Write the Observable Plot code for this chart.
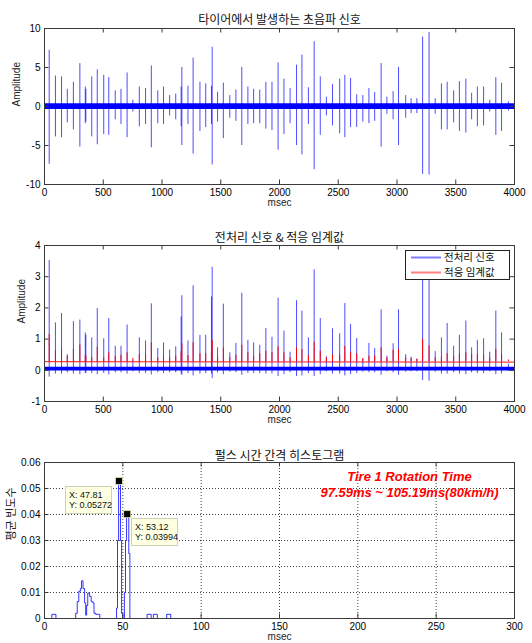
<!DOCTYPE html>
<html>
<head>
<meta charset="utf-8">
<script src="https://cdn.jsdelivr.net/npm/d3@7"></script>
<script src="https://cdn.jsdelivr.net/npm/@observablehq/plot@0.6"></script>
<style>
  body { margin: 0; background: #fff; }
  #fig { position: relative; width: 532px; height: 643px; overflow: hidden; background: #fff; }
  #fig > svg { position: absolute; left: 0; }
</style>
</head>
<body>
<div id="fig"></div>
<script>
// ---- pulse train: one entry per detected tyre pulse ----
const pulseTime = [
  40, 93, 145, 194, 246, 301, 347, 352, 402, 449,
  504, 547, 602, 651, 703, 752, 807, 860, 909, 964,
  1013, 1065, 1117, 1163, 1169, 1221, 1265, 1323, 1372, 1421,
  1427, 1473, 1522, 1577, 1629, 1679, 1731, 1780, 1832, 1884,
  1936, 1988, 2038, 2090, 2145, 2191, 2246, 2295, 2347, 2399,
  2451, 2512, 2556, 2605, 2657, 2709, 2761, 2810, 2865, 2914,
  2967, 3013, 3074, 3120, 3169, 3218, 3273, 3325, 3378, 3427,
  3482, 3531, 3586, 3635, 3684, 3737, 3789, 3841, 3890, 3948
];
// raw ultrasonic signal: positive / negative peak of each pulse
const rawHigh = [
  7.2, 3.9, 3.8, 2.2, 3.1, 5.5, 2.5, 2.2, 3.8, 4.7,
  4.0, 3.7, 2.0, 2.2, 4.3, 0.8, 2.5, 2.3, 5.2, 2.0,
  2.5, 1.4, 1.6, 2.5, 5.0, 2.6, 6.2, 3.1, 2.9, 2.6,
  7.6, 1.8, 3.0, 1.4, 2.1, 5.0, 2.5, 2.2, 2.1, 3.1,
  3.1, 5.6, 3.5, 2.3, 5.3, 6.6, 2.4, 8.3, 3.8, 1.2,
  2.8, 3.5, 4.0, 3.6, 1.5, 1.4, 2.3, 1.8, 5.5, 1.2,
  1.9, 5.0, 1.4, 1.0, 1.0, 8.9, 9.5, 1.0, 2.9, 3.1,
  2.0, 3.2, 3.5, 1.7, 2.5, 2.5, 0.8, 3.7, 3.0, 0.6
];
const rawLow = [
  -7.4, -3.9, -4.0, -2.1, -3.0, -5.2, -2.2, -2.0, -3.9, -4.9,
  -3.6, -3.7, -1.7, -2.3, -4.0, -0.7, -2.6, -2.3, -5.3, -2.2,
  -2.3, -1.2, -1.7, -2.6, -5.0, -2.3, -6.1, -3.2, -2.7, -2.3,
  -7.5, -2.0, -4.1, -1.5, -1.9, -5.0, -2.3, -2.2, -2.2, -2.9,
  -3.1, -5.6, -3.6, -2.2, -5.0, -6.2, -2.3, -8.1, -3.7, -1.2,
  -2.5, -3.5, -4.0, -2.7, -2.7, -2.0, -2.2, -1.9, -5.2, -1.0,
  -1.7, -5.0, -1.5, -0.9, -0.9, -8.7, -8.8, -1.0, -3.0, -3.0,
  -2.1, -3.2, -3.4, -1.7, -2.6, -2.5, -0.7, -3.7, -3.2, -0.6
];
// preprocessed signal: peak and undershoot of each pulse
const procHigh = [
  3.52, 1.52, 1.82, 0.50, 1.56, 1.61, 1.20, 1.12, 1.04, 1.98,
  1.01, 1.66, 0.77, 0.77, 1.45, 0.30, 1.04, 0.94, 2.13, 0.70,
  0.88, 0.65, 0.75, 1.71, 2.39, 0.94, 2.71, 1.12, 1.12, 2.35,
  3.30, 0.72, 2.12, 0.56, 0.86, 2.47, 0.96, 0.88, 0.80, 1.34,
  1.06, 2.31, 1.26, 0.58, 2.23, 1.90, 1.04, 3.22, 1.66, 0.43,
  1.33, 1.17, 2.14, 1.47, 1.02, 0.35, 0.86, 0.70, 1.94, 0.45,
  0.85, 1.94, 0.50, 0.42, 0.35, 3.40, 3.60, 0.60, 1.04, 1.50,
  0.77, 1.12, 1.58, 0.72, 0.96, 1.01, 0.58, 1.90, 1.20, 0.20
];
const procLow = [
  -0.22, -0.12, -0.12, -0.08, -0.12, -0.14, -0.10, -0.10, -0.10, -0.14,
  -0.10, -0.15, -0.08, -0.08, -0.12, -0.05, -0.10, -0.10, -0.15, -0.08,
  -0.10, -0.08, -0.08, -0.12, -0.16, -0.10, -0.18, -0.12, -0.10, -0.12,
  -0.26, -0.08, -0.14, -0.06, -0.08, -0.16, -0.10, -0.10, -0.10, -0.12,
  -0.12, -0.20, -0.14, -0.08, -0.20, -0.18, -0.10, -0.20, -0.14, -0.05,
  -0.12, -0.12, -0.18, -0.14, -0.10, -0.06, -0.08, -0.08, -0.16, -0.05,
  -0.08, -0.16, -0.06, -0.05, -0.05, -0.33, -0.35, -0.06, -0.12, -0.12,
  -0.08, -0.12, -0.14, -0.08, -0.10, -0.10, -0.05, -0.14, -0.12, -0.04
];
// adaptive threshold: peak reached right after each pulse
const threshPeak = [
  1.15, 0.63, 0.67, 0.45, 0.67, 0.81, 0.48, 0.45, 0.40, 0.74,
  0.40, 0.56, 0.45, 0.48, 0.56, 0.38, 0.50, 0.50, 0.88, 0.40,
  0.43, 0.40, 0.45, 0.60, 0.85, 0.47, 0.88, 0.53, 0.53, 0.60,
  0.96, 0.42, 0.72, 0.40, 0.48, 0.80, 0.56, 0.45, 0.53, 0.61,
  0.56, 0.75, 0.56, 0.40, 0.72, 0.67, 0.47, 0.90, 0.61, 0.40,
  0.50, 0.48, 0.76, 0.56, 0.53, 0.38, 0.45, 0.47, 0.72, 0.40,
  0.64, 0.67, 0.40, 0.38, 0.36, 1.00, 0.78, 0.40, 0.43, 0.53,
  0.45, 0.53, 0.56, 0.50, 0.50, 0.48, 0.40, 0.67, 0.50, 0.33
];

// background noise floor between pulses
const floorTime = [0, 4000];
const rawFloorLow = [-0.40, -0.40];
const rawFloorHigh = [0.35, 0.35];
const procFloorLow = [-0.02, -0.02];
const procFloorHigh = [0.10, 0.10];
const threshFloor = [0.28, 0.26];

// pulse-interval histogram (stairs: bin start, relative frequency)
const histEdge = [0, 4.7, 7.3, 19.9, 20.9, 21.9, 22.9, 23.6, 24.6, 25.6,
  26.3, 26.9, 27.6, 28.8, 29.8, 30.8, 31.6, 32.7, 35.3,
  46.0, 46.6, 47.3, 48.5, 49.2, 50.0,
  51.0, 51.7, 52.4, 53.8, 54.5,
  65.5, 68.1, 69.5, 72.0, 78.0, 80.6, 300];
const histValue = [0, 0.0016, 0, 0.002, 0.0065, 0.0105, 0.0115, 0.0145, 0.0115, 0.006,
  0.0013, 0.005, 0.0098, 0.0085, 0.0065, 0.006, 0.002, 0.0016, 0,
  0.004, 0.03, 0.05272, 0.03, 0.002, 0,
  0.01, 0.03, 0.03994, 0.025, 0,
  0.0016, 0, 0.0016, 0, 0.0016, 0, 0];
const tipX = [47.81, 53.12];
const tipY = [0.05272, 0.03994];

// axes ticks and texts
const timeTicks = [0, 500, 1000, 1500, 2000, 2500, 3000, 3500, 4000];
const rawTicks = [-10, -5, 0, 5, 10];
const procTicks = [-1, 0, 1, 2, 3, 4];
const histTicksX = [0, 50, 100, 150, 200, 250, 300];
const histTicksY = [0, 0.01, 0.02, 0.03, 0.04, 0.05, 0.06];
const titles = ["타이어에서 발생하는 초음파 신호", "전처리 신호 & 적응 임계값", "펄스 시간 간격 히스토그램"];
const yLabels = ["Amplitude", "Amplitude", "평균 빈도수"];
const xLabel = "msec";
const legendLabels = ["전처리 신호", "적응 임계값"];
const noteLines = ["Tire 1 Rotation Time", "97.59ms ~ 105.19ms(80km/h)"];

// ---- drawing ----
const W = 532, ML = 44, MR = 18;
const IW = W - ML - MR;
const AX = "#3a3a3a";
const FONT = "'Liberation Sans', Arial, Helvetica, sans-serif";
const KFONT = "'Noto Sans CJK KR', 'Noto Sans', sans-serif";
const fig = document.getElementById("fig");

const pulses = pulseTime.map((t, i) => ({
  t, rh: rawHigh[i], rl: rawLow[i], ph: procHigh[i], pl: procLow[i], th: threshPeak[i]
}));
const floor = floorTime.map((t, i) => ({
  t, rl: rawFloorLow[i], rh: rawFloorHigh[i], pl: procFloorLow[i], ph: procFloorHigh[i], th: threshFloor[i]
}));
const hist = histEdge.map((x, i) => ({x, y: histValue[i]}));

const fmt = d => String(d);

// MATLAB-like box: inward ticks on all four sides, labels outside
function boxMarks(xTicks, yTicks, innerH, title, yLabel, yLabelDx, titleDy) {
  const tl = 4.5;
  return [
    Plot.ruleX(xTicks, {stroke: AX, insetBottom: innerH - tl}),
    Plot.ruleX(xTicks, {stroke: AX, insetTop: innerH - tl}),
    Plot.ruleY(yTicks, {stroke: AX, insetRight: IW - tl}),
    Plot.ruleY(yTicks, {stroke: AX, insetLeft: IW - tl}),
    Plot.axisX(xTicks, {anchor: "bottom", tickSize: 0, tickPadding: 4, tickFormat: fmt, label: null, fontSize: 10}),
    Plot.axisY(yTicks, {anchor: "left", tickSize: 0, tickPadding: 4, tickFormat: fmt, label: null, fontSize: 10}),
    Plot.frame({stroke: AX}),
    Plot.text([title], {text: d => d, frameAnchor: "top", dy: titleDy, fontFamily: KFONT, fontSize: 12, fill: "#111"}),
    Plot.text([xLabel], {text: d => d, frameAnchor: "bottom", dy: 21, fontSize: 10, fill: "#222"}),
    Plot.text([yLabel], {text: d => d, frameAnchor: "left", rotate: -90, dx: yLabelDx,
      fontSize: yLabel === "Amplitude" ? 10 : 11, fontFamily: yLabel === "Amplitude" ? FONT : KFONT, fill: "#222"})
  ];
}

function place(svg, top) {
  svg.style.top = top + "px";
  fig.appendChild(svg);
  return svg;
}

const style = {fontFamily: FONT, fontSize: "10px", color: "#000", background: "transparent", overflow: "visible"};

// Panel 1: raw ultrasonic signal
const h1 = 214, mt1 = 28, mb1 = 30;
const p1 = Plot.plot({
  width: W, height: h1, marginLeft: ML, marginRight: MR, marginTop: mt1, marginBottom: mb1,
  style,
  x: {domain: [0, 4000]},
  y: {domain: [-10, 10]},
  marks: [
    Plot.areaY(floor, {x: "t", y1: "rl", y2: "rh", fill: "#0000ff"}),
    Plot.ruleX(pulses, {x: "t", y1: "rl", y2: "rh", stroke: "#0000ff", strokeWidth: 1, strokeOpacity: 0.7}),
    ...boxMarks(timeTicks, rawTicks, h1 - mt1 - mb1, titles[0], yLabels[0], -28, -13)
  ]
});
place(p1, 0);

// Panel 2: preprocessed signal with adaptive threshold
const h2 = 216, mt2 = 31, mb2 = 29;
const p2 = Plot.plot({
  width: W, height: h2, marginLeft: ML, marginRight: MR, marginTop: mt2, marginBottom: mb2,
  style,
  x: {domain: [0, 4000]},
  y: {domain: [-1, 4]},
  marks: [
    Plot.areaY(floor, {x: "t", y1: "pl", y2: "ph", fill: "#0000ff"}),
    Plot.ruleX(pulses, {x: "t", y1: "pl", y2: "ph", stroke: "#0000ff", strokeWidth: 1, strokeOpacity: 0.7}),
    Plot.lineY(floor, {x: "t", y: "th", stroke: "#ff0000", strokeWidth: 1.2, strokeOpacity: 0.75}),
    Plot.ruleX(pulses, {x: "t", y1: () => threshFloor[0], y2: "th", stroke: "#ff0000", strokeWidth: 1}),
    ...boxMarks(timeTicks, procTicks, h2 - mt2 - mb2, titles[1], yLabels[1], -23, -12)
  ]
});
place(p2, 214);

// legend of panel 2
(function () {
  const lg = d3.create("svg").attr("width", 106).attr("height", 31)
    .style("position", "absolute").style("left", "405px").style("top", "250px")
    .style("overflow", "visible");
  lg.append("rect").attr("x", 0.5).attr("y", 0.5).attr("width", 104).attr("height", 29)
    .attr("fill", "#fff").attr("stroke", "#222");
  const colors = ["#0000ff", "#ff0000"];
  legendLabels.forEach((lab, i) => {
    const cy = 7.5 + i * 15;
    lg.append("line").attr("x1", 6).attr("x2", 36).attr("y1", cy).attr("y2", cy)
      .attr("stroke", colors[i]).attr("stroke-opacity", 0.5).attr("stroke-width", 2);
    lg.append("text").attr("x", 39).attr("y", cy).attr("dy", "0.36em")
      .attr("font-family", KFONT).attr("font-size", 10.5).attr("fill", "#111").text(lab);
  });
  fig.appendChild(lg.node());
})();

// Panel 3: histogram of pulse intervals
const h3 = 213, mt3 = 32, mb3 = 25;
const p3 = Plot.plot({
  width: W, height: h3, marginLeft: ML, marginRight: MR, marginTop: mt3, marginBottom: mb3,
  style,
  x: {domain: [0, 300]},
  y: {domain: [0, 0.06]},
  marks: [
    Plot.ruleX(histTicksX.slice(1, -1), {stroke: "#000", strokeOpacity: 0.75, strokeDasharray: "1,2"}),
    Plot.ruleY(histTicksY.slice(1, -1), {stroke: "#000", strokeOpacity: 0.75, strokeDasharray: "1,2"}),
    Plot.line(hist, {x: "x", y: "y", curve: "step-after", stroke: "#0000ff", strokeWidth: 1, strokeOpacity: 0.8}),
    Plot.text([noteLines.join("\n")], {text: d => d, frameAnchor: "top-right", textAnchor: "middle",
      lineAnchor: "top", lineHeight: 1.3, dx: -105, dy: 6, fill: "#ff0000", fontSize: 13,
      fontWeight: "bold", fontStyle: "italic", fontFamily: FONT}),
    ...boxMarks(histTicksX, histTicksY, h3 - mt3 - mb3, titles[2], yLabels[2], -33, -11)
  ]
});
place(p3, 430);

// data cursors on the two histogram peaks
(function () {
  const sx = p3.scale("x"), sy = p3.scale("y");
  const g = d3.select(p3).append("g").attr("text-anchor", "start");
  const bw = 46, bh = 27;
  tipX.forEach((xv, i) => {
    const px = sx.apply(xv), py = sy.apply(tipY[i]);
    const bx = Math.round(i === 0 ? px - 8 - bw : px + 4);
    const by = Math.round(i === 0 ? py + 5 : py + 4);
    g.append("rect").attr("x", bx + 0.5).attr("y", by + 0.5).attr("width", bw).attr("height", bh)
      .attr("fill", "#ffffe1").attr("stroke", "#cfcfb8");
    const lines = ["X: " + xv, "Y: " + tipY[i]];
    lines.forEach((s, j) => {
      g.append("text").attr("x", bx + 4).attr("y", by + 12 + j * 10)
        .attr("text-anchor", "start")
        .attr("font-family", FONT).attr("font-size", 9).attr("fill", "#111").text(s);
    });
    g.append("rect").attr("x", px - 3.5).attr("y", py - 3.5).attr("width", 7).attr("height", 7)
      .attr("fill", "#000").attr("stroke", "#e8e8a0").attr("stroke-width", 0.8);
  });
})();
</script>
</body>
</html>
